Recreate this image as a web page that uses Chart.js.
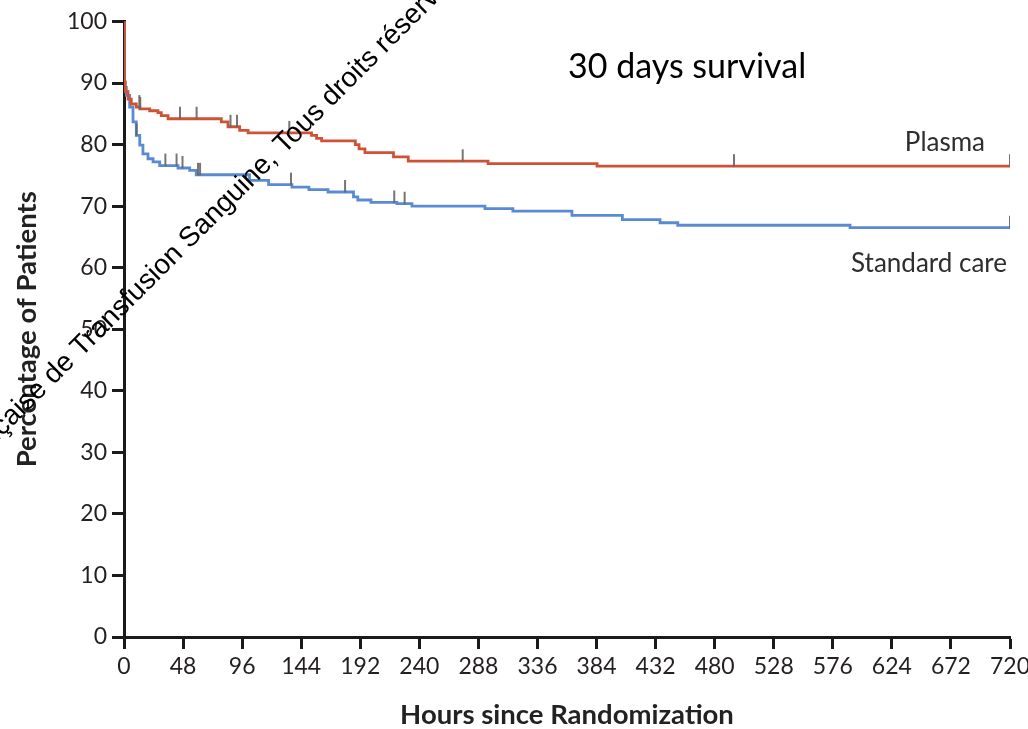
<!DOCTYPE html>
<html><head><meta charset="utf-8">
<script src="https://cdn.jsdelivr.net/npm/chart.js@4.4.0/dist/chart.umd.min.js"></script>
<style>html,body{margin:0;padding:0;background:#fff;}canvas{display:block;}</style>
</head><body>
<canvas id="c" width="1028" height="729"></canvas>
<script>
// ---- data ----
const xTickValues = [0,48,96,144,192,240,288,336,384,432,480,528,576,624,672,720];
const yTickValues = [0,10,20,30,40,50,60,70,80,90,100];

const hoursPlasma = [0,0.3,1.1,3.3,5.9,10,12.8,20.9,27.6,30.3,35.8,79.1,84.5,94,100.8,152.4,156.5,160.6,188,191,195.8,219,231,295.8,384.4,720];
const survPlasma  = [100,90.2,88.6,87.4,86.6,86.1,85.8,85.5,85.2,84.7,84.2,83.7,82.9,82.3,81.9,81.5,81.0,80.6,80.0,79.3,78.7,78.0,77.3,76.9,76.5,76.5];

const hoursStandard = [0,0.4,1.9,4.6,7.3,10,12.8,15.4,19.5,23.6,29,43.9,53.4,58.7,102,117.5,136.5,150.3,165.8,186.5,190,200.7,221.8,234,293.3,316,364,405,435.6,450,590,720];
const survStandard  = [100,89.3,88.0,86.1,83.7,81.5,79.9,78.5,77.7,77.2,76.6,76.2,75.8,75.1,74.2,73.5,73.1,72.7,72.3,71.5,71.0,70.6,70.4,70.0,69.6,69.2,68.5,67.8,67.3,66.9,66.5,66.5];

const censorPlasma   = [12.4,13.2,45.5,59,86.5,91.8,134.3,275.2,495.7,720];
const censorStandard = [10.2,33.6,42.7,47.5,60.1,61.8,135.7,179.6,219.6,228,720];

const seriesNames = ['Plasma','Standard care'];
const titleText = '30 days survival';
const xTitle = 'Hours since Randomization';
const yTitle = 'Percentage of Patients';
const watermark = 'Société Française de Transfusion Sanguine, Tous droits réservés';

// ---- helpers ----
const toXY = (h, s) => h.map((x, i) => ({x, y: s[i]}));
function survAt(h, s, t){ let v = s[0]; for (let i = 0; i < h.length; i++) { if (h[i] <= t) v = s[i]; } return v; }
const censorXY = (c, h, s) => c.map(t => ({x: t, y: survAt(h, s, t)}));

const censorMark = (() => {
  const c = document.createElement('canvas'); c.width = 4; c.height = 26;
  const g = c.getContext('2d'); g.strokeStyle = '#666'; g.lineWidth = 1.8;
  g.beginPath(); g.moveTo(2, 1); g.lineTo(2, 13.5); g.stroke();
  return c;
})();

const RED = '#cf5236', BLUE = '#5a8bd2', AX = '#1a1a1a', TXT = '#231f20';

const annot = {
  id: 'annot',
  beforeDraw(chart){
    const c = chart.ctx; c.save(); c.fillStyle = '#fff'; c.fillRect(0, 0, chart.width, chart.height); c.restore();
  },
  afterDraw(chart){
    const c = chart.ctx, a = chart.chartArea;
    c.save();
    c.textBaseline = 'alphabetic';
    c.fillStyle = '#000'; c.font = '34px Lato'; c.textAlign = 'left';
    c.fillText(titleText, 568, 78);
    c.fillStyle = '#2e2e2e'; c.font = '26px Lato'; c.textAlign = 'right';
    c.fillText(seriesNames[0], a.right - 25, 151);
    c.fillText(seriesNames[1], a.right - 3, 272);
    c.translate(2, 437); c.rotate(-45 * Math.PI / 180);
    c.font = '28px "Liberation Sans"'; c.fillStyle = '#000'; c.textAlign = 'left';
    const pre = 'Société Fran';
    c.fillText(watermark, -c.measureText(pre).width, 0);
    c.restore();
  }
};

function draw(){
  new Chart(document.getElementById('c'), {
    type: 'line',
    data: {
      datasets: [
        {label: 'censor plasma', data: censorXY(censorPlasma, hoursPlasma, survPlasma), showLine: false, pointStyle: censorMark, pointRadius: 3, order: 0},
        {label: 'censor standard', data: censorXY(censorStandard, hoursStandard, survStandard), showLine: false, pointStyle: censorMark, pointRadius: 3, order: 1},
        {label: seriesNames[0], data: toXY(hoursPlasma, survPlasma), borderColor: RED, borderWidth: 2.8, stepped: true, pointRadius: 0, fill: false, order: 2},
        {label: seriesNames[1], data: toXY(hoursStandard, survStandard), borderColor: BLUE, borderWidth: 2.8, stepped: true, pointRadius: 0, fill: false, order: 3}
      ]
    },
    options: {
      responsive: false, animation: false,
      layout: {padding: {left: 0, top: 21.5, right: 18, bottom: 0}},
      plugins: {legend: {display: false}, tooltip: {enabled: false}, title: {display: false}},
      scales: {
        x: {
          type: 'linear', min: 0, max: 720,
          afterBuildTicks: s => { s.ticks = xTickValues.map(v => ({value: v})); },
          afterFit: s => { s.height = 92; s.paddingLeft = 0; s.paddingRight = 0; },
          ticks: {color: TXT, font: {family: 'Lato', size: 23}, padding: 4, maxRotation: 0, autoSkip: false},
          grid: {drawOnChartArea: false, drawTicks: true, tickLength: 12, tickWidth: 3, tickColor: AX},
          border: {display: true, color: AX, width: 3},
          title: {display: true, text: xTitle, color: '#222', font: {family: 'Lato', size: 27.5, weight: 'bold', lineHeight: 1}, padding: {top: 0, bottom: 0}}
        },
        y: {
          type: 'linear', min: 0, max: 100,
          afterBuildTicks: s => { s.ticks = yTickValues.map(v => ({value: v})); },
          afterFit: s => { s.width = 124; s.paddingTop = 0; s.paddingBottom = 0; },
          ticks: {color: TXT, font: {family: 'Lato', size: 23}, padding: 5, autoSkip: false},
          grid: {drawOnChartArea: false, drawTicks: true, tickLength: 12, tickWidth: 3, tickColor: AX},
          border: {display: true, color: AX, width: 3},
          title: {display: true, text: yTitle, color: '#222', font: {family: 'Lato', size: 27.5, weight: 'bold', lineHeight: 1}, padding: {top: 13, bottom: 0}}
        }
      }
    },
    plugins: [annot]
  });
}
Promise.all([
  document.fonts.load('23px Lato'), document.fonts.load('bold 27.5px Lato'),
  document.fonts.load('34px Lato'), document.fonts.load('28px "Liberation Sans"')
]).then(draw, draw);
</script>
</body></html>
